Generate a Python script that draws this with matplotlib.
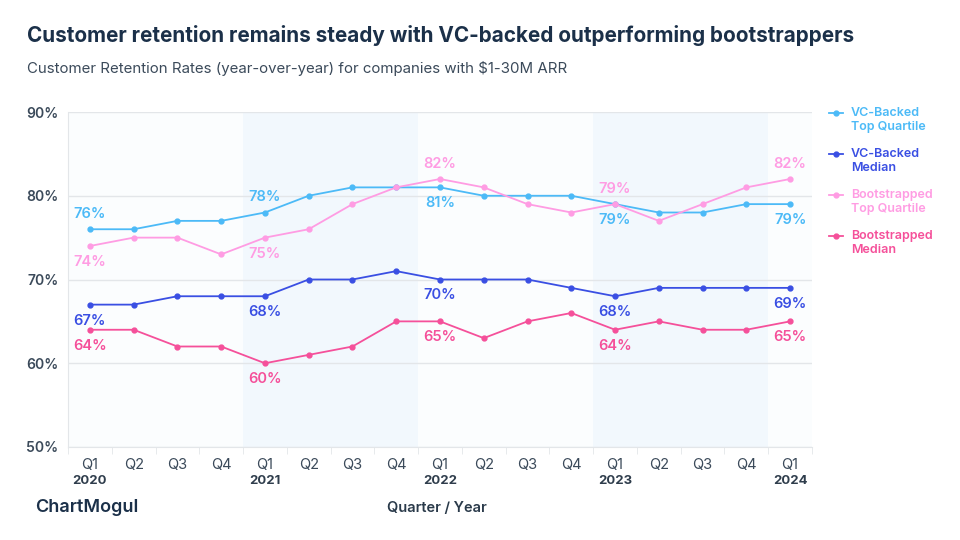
import matplotlib
matplotlib.use("Agg")
import matplotlib.pyplot as plt
import matplotlib.transforms as mtransforms
import numpy as np

plt.rcParams['font.family'] = ['Inter', 'DejaVu Sans']

quarters = ["Q1", "Q2", "Q3", "Q4"] * 4 + ["Q1"]
years = {0: "2020", 4: "2021", 8: "2022", 12: "2023", 16: "2024"}

vc_top = [76, 76, 77, 77, 78, 80, 81, 81, 81, 80, 80, 80, 79, 78, 78, 79, 79]
boot_top = [74, 75, 75, 73, 75, 76, 79, 81, 82, 81, 79, 78, 79, 77, 79, 81, 82]
vc_med = [67, 67, 68, 68, 68, 70, 70, 71, 70, 70, 70, 69, 68, 69, 69, 69, 69]
boot_med = [64, 64, 62, 62, 60, 61, 62, 65, 65, 63, 65, 66, 64, 65, 64, 64, 65]

series = [
    ("VC-Backed\nTop Quartile", vc_top, "#4cbaf7", [1, 1, -1, -1, -1]),
    ("VC-Backed\nMedian", vc_med, "#3a4fe3", [-1, -1, -1, -1, -1]),
    ("Bootstrapped\nTop Quartile", boot_top, "#ff9ce3", [-1, -1, 1, 1, 1]),
    ("Bootstrapped\nMedian", boot_med, "#f5509a", [-1, -1, -1, -1, -1]),
]
label_idx = [0, 4, 8, 12, 16]

fig = plt.figure(figsize=(9.6, 5.4), dpi=100)
ax = fig.add_axes([68 / 960, 1 - 447 / 540, (812 - 68) / 960, (447 - 112) / 540])
x = np.arange(len(vc_top))

ax.set_facecolor("#fbfdfe")
for a, b in [(3.5, 7.5), (11.5, 15.5)]:
    ax.axvspan(a, b, color="#f2f8fd", zorder=0, lw=0)

for name, vals, col, pos in series:
    ax.plot(x, vals, color=col, lw=1.3, marker="o", ms=3.5, zorder=3)
    for i, p in zip(label_idx, pos):
        off = 11 if p > 0 else -11.5
        ax.annotate(f"{vals[i]}%", (x[i], vals[i]), xytext=(0, off),
                    textcoords="offset points", ha="center", va="center",
                    color=col, fontsize=10.5, fontweight="semibold", zorder=4)

ax.set_xlim(-0.5, 16.5)
ax.set_ylim(50, 90)
ax.set_yticks([50, 60, 70, 80, 90])
ax.set_yticklabels([f"{v}%" for v in [50, 60, 70, 80, 90]])
ax.grid(axis="y", color="#e3e6e9", lw=1, zorder=1)
ax.set_axisbelow(True)
for s in ["top", "right"]:
    ax.spines[s].set_visible(False)
for s in ["left", "bottom"]:
    ax.spines[s].set_color("#e3e6e9")
ax.tick_params(axis="y", length=0, pad=7, labelsize=10, labelcolor="#3b4a5a")
for t in ax.get_yticklabels():
    t.set_fontweight("semibold")

ax.set_xticks(x)
ax.set_xticklabels(quarters)
ax.set_xticks(np.arange(-0.5, 17, 1), minor=True)
ax.tick_params(axis="x", which="major", length=0, pad=8, labelsize=10.5, labelcolor="#3b4a5a")
ax.tick_params(axis="x", which="minor", length=5, color="#e3e6e9")

trans = mtransforms.blended_transform_factory(ax.transData, ax.transAxes)
for i, yr in years.items():
    ax.text(i, -0.1, yr, transform=trans, ha="center", va="center",
            fontsize=9.5, fontweight="bold", color="#2f3d4c")

fig.text(27 / 960, 1 - 35 / 540, "Customer retention remains steady with VC-backed outperforming bootstrappers",
         fontsize=14.9, fontweight="bold", color="#1b3049", va="center")
fig.text(27 / 960, 1 - 68 / 540, "Customer Retention Rates (year-over-year) for companies with $1-30M ARR",
         fontsize=10.8, color="#3b4a5a", va="center")
fig.text(437 / 960, 1 - 508 / 540, "Quarter / Year", fontsize=10.5, fontweight="semibold",
         color="#2a3a4a", ha="center", va="center")
fig.text(35 / 960, 1 - 508 / 540, "ChartMogul", fontsize=13, fontweight="semibold",
         color="#1b3049", va="center")

ly = [120, 161, 202, 243]
for (name, vals, col, pos), yy in zip(series, ly):
    fig.lines.append(plt.Line2D([829 / 960, 843 / 960], [1 - (yy - 7) / 540] * 2,
                                color=col, lw=1.3, transform=fig.transFigure))
    fig.lines.append(plt.Line2D([836 / 960], [1 - (yy - 7) / 540], color=col, marker="o",
                                ms=3.5, transform=fig.transFigure))
    fig.text(851 / 960, 1 - yy / 540, name, fontsize=9, fontweight="semibold",
             color=col, va="center", linespacing=1.15)

fig.savefig("out.png", dpi=100)
